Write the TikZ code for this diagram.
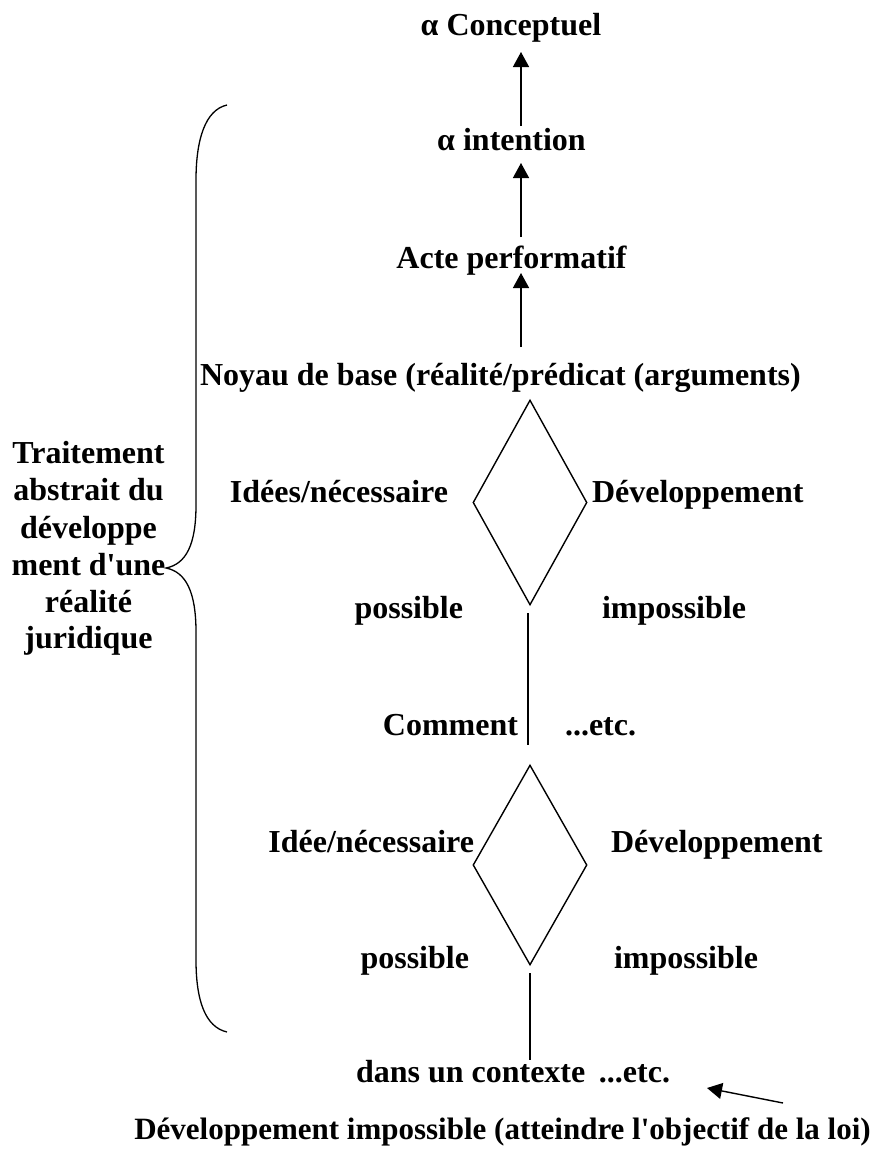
\documentclass[tikz,border=0pt]{standalone}
\usepackage{fontspec}
\setmainfont{Liberation Serif}[Ligatures=TeXOff]
\usetikzlibrary{arrows.meta,shapes.geometric}
\begin{document}
\begin{tikzpicture}[x=1pt,y=-1pt,
  lbl/.style={font=\fontsize{32}{38}\selectfont\bfseries, inner sep=0pt, outer sep=0pt},
  ln/.style={line width=1.4pt},
  arr/.style={line width=1.4pt, -{Triangle[width=16pt,length=15pt]}},
  losange/.style={diamond, draw, line width=1.4pt, inner sep=0pt, minimum width=114pt}]
\useasboundingbox (0,0) rectangle (894,1151);
% top chain
\node[lbl,anchor=base] (conc) at (511,35) {α Conceptuel};
\node[lbl,anchor=base] (inten) at (511.5,150) {α intention};
\node[lbl,anchor=base] (acte) at (511.5,268) {Acte performatif};
\node[lbl,anchor=base west] (noyau) at (200,385) {Noyau de base (réalité/prédicat (arguments)};
\coordinate (t1) at (521,126); \coordinate (h1) at (521,52);
\coordinate (t2) at (521,237); \coordinate (h2) at (521,163);
\coordinate (t3) at (521,347); \coordinate (h3) at (521,273);
\draw[arr] (t1) -- (h1);
\draw[arr] (t2) -- (h2);
\draw[arr] (t3) -- (h3);
% first diamond
\node[losange, minimum height=205pt] (d1) at (530,502.5) {};
\node[lbl,anchor=base east] (idees) at (448,502) {Idées/nécessaire};
\node[lbl,anchor=base west] (dev1) at (592,502) {Développement};
\node[lbl,anchor=base east] (pos1) at (463,618) {possible};
\node[lbl,anchor=base west] (imp1) at (602,618) {impossible};
\coordinate (l1a) at (528,613); \coordinate (l1b) at (528,745);
\draw[ln] (l1a) -- (l1b);
\node[lbl,anchor=base east] (comm) at (518,735) {Comment};
\node[lbl,anchor=base west] (etc1) at (565,735) {...etc.};
% second diamond
\node[losange, minimum height=200pt] (d2) at (530,865) {};
\node[lbl,anchor=base east] (idee) at (474,852) {Idée/nécessaire};
\node[lbl,anchor=base west] (dev2) at (611,852) {Développement};
\node[lbl,anchor=base east] (pos2) at (469,968) {possible};
\node[lbl,anchor=base west] (imp2) at (614,968) {impossible};
\coordinate (l2a) at (530,973); \coordinate (l2b) at (530,1060);
\draw[ln] (l2a) -- (l2b);
\node[lbl,anchor=base west] (ctx) at (356,1082) {dans un contexte};
\node[lbl,anchor=base east] (etc2) at (670,1082) {...etc.};
\node[lbl,anchor=base,font=\fontsize{31}{37}\selectfont\bfseries] (bottom) at (502.5,1139) {Développement impossible (atteindre l'objectif de la loi)};
\coordinate (bt) at (783,1103); \coordinate (bh) at (707,1088);
\draw[arr] (bt) -- (bh);
% left label
\node[lbl,anchor=base] (g1) at (88.5,463) {Traitement};
\node[lbl,anchor=base] (g2) at (88.5,500) {abstrait du};
\node[lbl,anchor=base] (g3) at (88.5,538) {développe};
\node[lbl,anchor=base] (g4) at (88.5,575) {ment d'une};
\node[lbl,anchor=base] (g5) at (88.5,612) {réalité};
\node[lbl,anchor=base] (g6) at (88.5,648) {juridique};
% brace
\coordinate (btop) at (227,105);
\coordinate (btip) at (166,568);
\coordinate (bbot) at (227,1032);
\draw[line width=1.3pt] (btop) .. controls (205,110) and (196,140) .. (196,180)
  -- (196,505) .. controls (196,545) and (186,564) .. (btip)
  .. controls (186,572) and (196,592) .. (196,632)
  -- (196,960) .. controls (196,1000) and (205,1027) .. (bbot);
\end{tikzpicture}
\end{document}
